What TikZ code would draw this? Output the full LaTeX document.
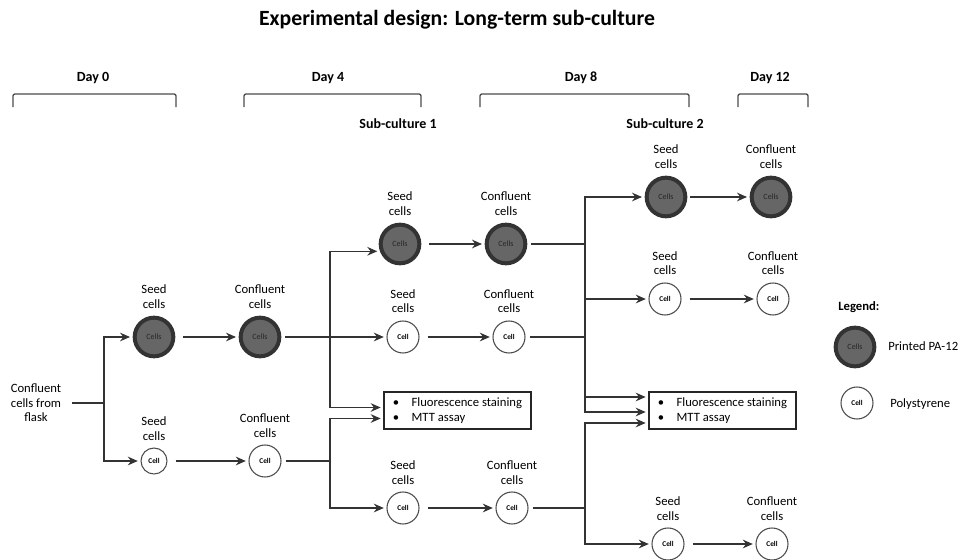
\documentclass[tikz,border=0pt]{standalone}
\usepackage{fontspec}
\setmainfont{Carlito}
\usetikzlibrary{arrows.meta,calc}
\begin{document}
\begin{tikzpicture}[x=0.75pt,y=-0.75pt,
  line/.style={draw=black!80,line width=0.9pt},
  arr/.style={line,-{Stealth[length=7.5pt,width=6.5pt,inset=2.5pt]},shorten >=2pt},
  gap/.style={shorten <=6pt},
  pa/.style={circle,draw=black!80,line width=3pt,fill=black!60,minimum size=29pt,inner sep=0pt,
    font=\fontsize{6}{7}\selectfont,text=black!85},
  ps/.style={circle,draw=black!70,line width=0.8pt,fill=white,minimum size=24pt,inner sep=0pt,
    font=\fontsize{5.5}{6}\selectfont\bfseries},
  lbl/.style={align=center,font=\fontsize{9.5}{11}\selectfont,label distance=2pt},
  daylbl/.style={font=\fontsize{10.5}{12}\selectfont\bfseries},
  bracket/.style={draw=black!70,line width=1pt,rounded corners=1.5pt},
  testbox/.style={draw=black!85,line width=1pt,minimum width=110.25pt,minimum height=27.75pt,
    align=left,inner sep=0pt,font=\fontsize{9.5}{11.5}\selectfont},
  txt/.style={font=\fontsize{9.5}{11}\selectfont,inner sep=0pt}
]
\useasboundingbox (0,0) rectangle (960,560);

% title
\node[font=\fontsize{16.3}{18}\selectfont\bfseries] (title) at (457,20) {Experimental design: Long-term sub-culture};

% day labels and brackets
\node[daylbl] (d0) at (93,78) {Day 0};
\node[daylbl] (d4) at (328,78) {Day 4};
\node[daylbl] (d8) at (581,78) {Day 8};
\node[daylbl] (d12) at (770,78) {Day 12};
\draw[bracket] (13,107) -- (13,94) -- (176,94) -- (176,107);
\draw[bracket] (244,107) -- (244,94) -- (421,94) -- (421,107);
\draw[bracket] (480,107) -- (480,94) -- (689,94) -- (689,107);
\draw[bracket] (738,107) -- (738,94) -- (808,94) -- (808,107);

\node[daylbl] (sc1) at (398,124) {Sub-culture 1};
\node[daylbl] (sc2) at (665,124) {Sub-culture 2};

% source
\node[txt,align=center] (src) at (36,403) {Confluent\\cells from\\flask};

% day 0 / day 4
\node[pa,label={[lbl]above:Seed\\cells}] (a0s) at (154,337) {Cells};
\node[pa,label={[lbl]above:Confluent\\cells}] (a0c) at (260,337) {Cells};
\node[ps,minimum size=19.5pt,label={[lbl]above:Seed\\cells}] (b0s) at (154,461) {Cell};
\node[ps,label={[lbl]above:Confluent\\cells}] (b0c) at (265,461) {Cell};

% sub-culture 1
\node[pa,label={[lbl]above:Seed\\cells}] (a1s) at (400,244) {Cells};
\node[pa,label={[lbl]above:Confluent\\cells}] (a1c) at (506,244) {Cells};
\node[ps,label={[lbl]above:Seed\\cells}] (b1s) at (403,337) {Cell};
\node[ps,label={[lbl]above:Confluent\\cells}] (b1c) at (509,337) {Cell};
\node[ps,label={[lbl]above:Seed\\cells}] (c1s) at (403,508) {Cell};
\node[ps,label={[lbl]above:Confluent\\cells}] (c1c) at (512,508) {Cell};
\node[testbox] (box1) at (457.5,410.5) {\makebox[14pt][l]{\textbullet}Fluorescence staining\\\makebox[14pt][l]{\textbullet}MTT assay};

% sub-culture 2
\node[pa,label={[lbl]above:Seed\\cells}] (a2s) at (666,197) {Cells};
\node[pa,label={[lbl]above:Confluent\\cells}] (a2c) at (771,197) {Cells};
\node[ps,label={[lbl]above:Seed\\cells}] (b2s) at (665,299) {Cell};
\node[ps,label={[lbl]above:Confluent\\cells}] (b2c) at (773,299) {Cell};
\node[ps,label={[lbl]above:Seed\\cells}] (c2s) at (668,544) {Cell};
\node[ps,label={[lbl]above:Confluent\\cells}] (c2c) at (772,544) {Cell};
\node[testbox] (box2) at (722.5,410.5) {\makebox[14pt][l]{\textbullet}Fluorescence staining\\\makebox[14pt][l]{\textbullet}MTT assay};

% junctions
\coordinate (j0) at (104,403);
\coordinate (j1) at (330,337);
\coordinate (j2) at (330,461);
\coordinate (j3) at (585,244);
\coordinate (j4) at (585,508);

% connectors day 0
\draw[line,shorten <=8pt] (src.east) -- (j0);
\draw[arr] (j0) |- (a0s.west);
\draw[arr] (j0) |- (b0s.west);
\draw[arr,gap] (a0s.east) -- (a0c.west);
\draw[arr,gap] (b0s.east) -- (b0c.west);

% connectors day 4
\draw[line,line width=1.3pt,shorten <=3pt] (a0c.east) -- (j1);
\draw[arr] (j1) |- (a1s.200);
\draw[arr] (j1) -- (b1s.west);
\draw[arr] (j1) |- ($(box1.west)+(0,-3)$);
\draw[line,line width=1.3pt,shorten <=3pt] (b0c.east) -- (j2);
\draw[arr] (j2) |- ($(box1.west)+(0,8)$);
\draw[arr] (j2) |- (c1s.west);
\draw[arr,gap] (a1s.east) -- (a1c.west);
\draw[arr,gap] (b1s.east) -- (b1c.west);
\draw[arr,gap] (c1s.east) -- (c1c.west);

% connectors day 8
\draw[line,line width=1.3pt,shorten <=3pt] (a1c.east) -- (j3);
\draw[line,shorten <=3pt] (b1c.east) -- (j3 |- b1c.east);
\draw[arr] (j3) |- (a2s.west);
\draw[arr] (j3) |- (b2s.west);
\draw[arr] (j3) |- ($(box2.west)+(0,-13.5)$);
\draw[arr] (j3) |- ($(box2.west)+(0,1.5)$);
\draw[line,line width=1.3pt,shorten <=3pt] (c1c.east) -- (j4);
\draw[arr] (j4) |- ($(box2.west)+(0,12.5)$);
\draw[arr] (j4) |- (c2s.west);
\draw[arr,shorten <=2pt] (a2s.east) -- (a2c.west);
\draw[arr,gap] (b2s.east) -- (b2c.west);
\draw[arr,gap] (c2s.east) -- (c2c.west);

% legend
\node[txt,font=\fontsize{9.5}{11}\selectfont\bfseries,anchor=west] (leg) at (838,307) {Legend:};
\node[pa] (lpa) at (855,347) {Cells};
\node[ps] (lps) at (857,403) {Cell};
\node[txt,anchor=west] (lpat) at (888,346) {Printed PA-12};
\node[txt,anchor=west] (lpst) at (890,404) {Polystyrene};
\end{tikzpicture}
\end{document}
